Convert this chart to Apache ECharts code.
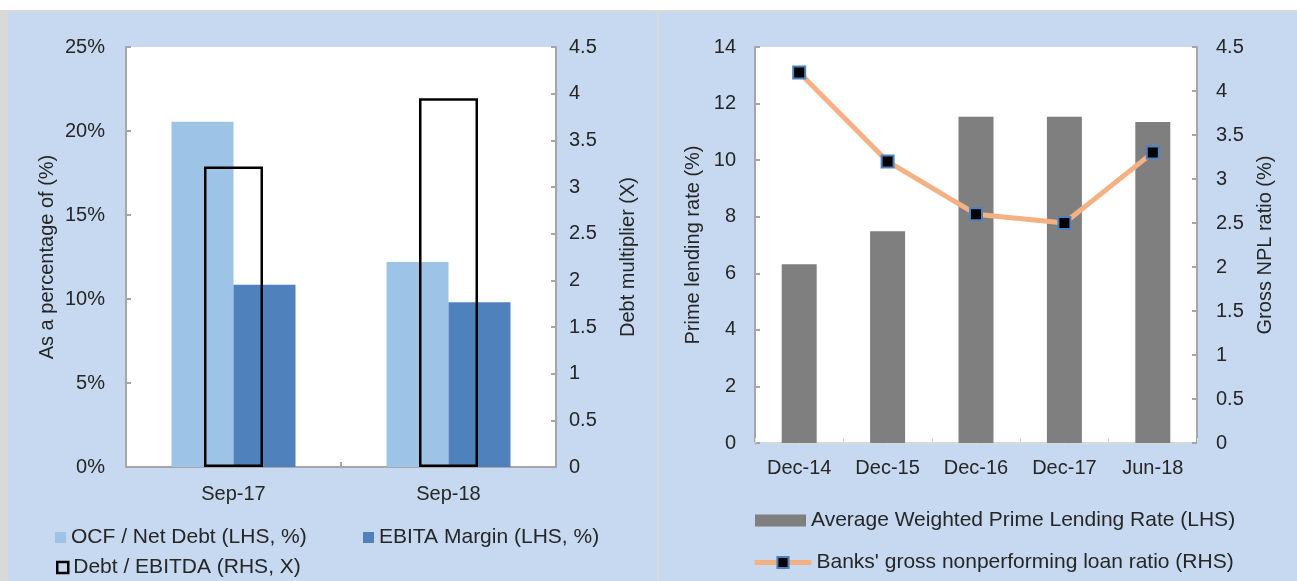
<!DOCTYPE html>
<html>
<head>
<meta charset="utf-8">
<script src="https://cdn.jsdelivr.net/npm/echarts@6/dist/echarts.min.js"></script>
<style>
  html, body { margin: 0; padding: 0; background: #ffffff; }
  #chart { width: 1297px; height: 581px; }
</style>
</head>
<body>
<div id="chart"></div>
<script>
// Left panel: cash-flow coverage, margin and leverage
const periods = ['Sep-17', 'Sep-18'];
const ocfNetDebt = [20.55, 12.2];      // % (LHS)
const ebitaMargin = [10.85, 9.8];      // % (LHS)
const debtEbitda = [3.22, 3.95];       // X (RHS)
const pctTicks = [0, 5, 10, 15, 20, 25];

// Right panel: lending rate and NPL ratio
const months = ['Dec-14', 'Dec-15', 'Dec-16', 'Dec-17', 'Jun-18'];
const primeRate = [6.32, 7.49, 11.53, 11.53, 11.35];   // % (LHS)
const nplRatio = [4.21, 3.2, 2.6, 2.5, 3.3];           // % (RHS)

const FONT = "'Liberation Sans', Arial, sans-serif";
const TEXT = '#262626';
const PANEL = '#c6d9f0';
const AXIS = '#a6a6a6';
const NPL_LINE = '#f4b183';
const NPL_EDGE = '#4f81bd';

const chart = echarts.init(document.getElementById('chart'), null, { renderer: 'canvas' });

function valueAxis(grid, pos, max, interval, opts) {
  return Object.assign({
    type: 'value', gridIndex: grid, position: pos, min: 0, max: max, interval: interval,
    splitLine: { show: false },
    axisLine: { show: true, lineStyle: { color: AXIS, width: 2 } },
    axisTick: { show: true, inside: true, length: 5, lineStyle: { color: AXIS, width: 2 } },
    axisLabel: { color: TEXT, fontFamily: FONT, fontSize: 20 },
    nameLocation: 'middle', nameRotate: 90,
    nameTextStyle: { color: TEXT, fontFamily: FONT, fontSize: 20 }
  }, opts);
}

const legendText = { color: TEXT, fontFamily: FONT, fontSize: 21 };

const option = {
  animation: false,
  backgroundColor: '#ffffff',
  textStyle: { fontFamily: FONT, color: TEXT },
  graphic: [
    // page frame and panel backgrounds
    { type: 'rect', shape: { x: 0, y: 10, width: 1297, height: 2 }, style: { fill: '#d9d9d9' }, silent: true, z: -10 },
    { type: 'rect', shape: { x: 0, y: 12, width: 8, height: 569 }, style: { fill: '#d9d9d9' }, silent: true, z: -10 },
    { type: 'rect', shape: { x: 8, y: 12, width: 649, height: 569 }, style: { fill: PANEL }, silent: true, z: -10 },
    { type: 'rect', shape: { x: 657, y: 12, width: 2, height: 569 }, style: { fill: '#d9d9d9' }, silent: true, z: -10 },
    { type: 'rect', shape: { x: 659, y: 12, width: 638, height: 569 }, style: { fill: PANEL }, silent: true, z: -10 }
  ],
  grid: [
    { left: 126, top: 47, width: 430, height: 420, show: true, backgroundColor: '#ffffff', borderWidth: 0 },
    { left: 755, top: 47, width: 442, height: 396, show: true, backgroundColor: '#ffffff', borderWidth: 0 }
  ],
  legend: [
    {
      left: 55, top: 527, padding: 0, itemWidth: 11, itemHeight: 11, icon: 'rect',
      textStyle: legendText,
      data: ['OCF / Net Debt (LHS, %)']
    },
    {
      left: 363, top: 527, padding: 0, itemWidth: 11, itemHeight: 11, icon: 'rect',
      textStyle: legendText,
      data: ['EBITA Margin (LHS, %)']
    },
    {
      left: 56, top: 557, padding: 0, itemWidth: 11, itemHeight: 11, icon: 'rect',
      textStyle: legendText,
      data: [{ name: 'Debt / EBITDA (RHS, X)', itemStyle: { color: 'rgba(0,0,0,0)', borderColor: '#000000', borderWidth: 2.5 } }]
    },
    {
      left: 755, top: 510, padding: 0, itemWidth: 51, itemHeight: 12, icon: 'rect',
      textStyle: legendText,
      data: ['Average Weighted Prime Lending Rate (LHS)']
    },
    {
      left: 752, top: 552, padding: 0, itemWidth: 57, itemHeight: 14,
      textStyle: legendText,
      data: [{
        name: 'Banks\' gross nonperforming loan ratio (RHS)',
        lineStyle: { color: NPL_LINE, width: 5 },
        itemStyle: { color: '#000000', borderColor: NPL_EDGE, borderWidth: 2 }
      }]
    }
  ],
  xAxis: [
    {
      type: 'category', gridIndex: 0, data: periods,
      axisLine: { show: true, lineStyle: { color: AXIS, width: 2 } },
      axisTick: { show: true, inside: true, length: 5, alignWithLabel: false, lineStyle: { color: AXIS, width: 2 } },
      axisLabel: { color: TEXT, fontFamily: FONT, fontSize: 20, margin: 17 }
    },
    {
      type: 'category', gridIndex: 0, data: periods, show: false
    },
    {
      type: 'category', gridIndex: 1, data: months,
      axisLine: { show: true, lineStyle: { color: '#d9d9d9', width: 2 } },
      axisTick: { show: true, inside: true, length: 5, alignWithLabel: false, lineStyle: { color: '#d9d9d9', width: 1 } },
      axisLabel: { color: TEXT, fontFamily: FONT, fontSize: 20, margin: 15 }
    },
    {
      type: 'category', gridIndex: 1, data: months,
      axisLine: { show: false },
      axisTick: { show: true, inside: true, length: 5, alignWithLabel: true, lineStyle: { color: '#d9d9d9', width: 1 } },
      axisLabel: { show: false }
    }
  ],
  yAxis: [
    valueAxis(0, 'left', pctTicks[pctTicks.length - 1], pctTicks[1] - pctTicks[0], {
      name: 'As a percentage of (%)', nameGap: 69,
      axisLabel: { color: TEXT, fontFamily: FONT, fontSize: 20, margin: 21, formatter: v => v + '%' }
    }),
    valueAxis(0, 'right', 4.5, 0.5, {
      name: 'Debt multiplier (X)', nameGap: 62,
      axisLabel: { color: TEXT, fontFamily: FONT, fontSize: 20, margin: 13 }
    }),
    valueAxis(1, 'left', 14, 2, {
      name: 'Prime lending rate (%)', nameGap: 52,
      axisLabel: { color: TEXT, fontFamily: FONT, fontSize: 20, margin: 19 }
    }),
    valueAxis(1, 'right', 4.5, 0.5, {
      name: 'Gross NPL ratio (%)', nameGap: 58,
      axisLabel: { color: TEXT, fontFamily: FONT, fontSize: 20, margin: 19 }
    })
  ],
  series: [
    {
      name: 'OCF / Net Debt (LHS, %)', type: 'bar', xAxisIndex: 0, yAxisIndex: 0,
      data: ocfNetDebt, barWidth: 62, barGap: '0%',
      itemStyle: { color: '#9dc3e6' }, z: 2
    },
    {
      name: 'EBITA Margin (LHS, %)', type: 'bar', xAxisIndex: 0, yAxisIndex: 0,
      data: ebitaMargin, barWidth: 62, barGap: '0%',
      itemStyle: { color: '#4f81bd' }, z: 2
    },
    {
      name: 'Debt / EBITDA (RHS, X)', type: 'bar', xAxisIndex: 1, yAxisIndex: 1,
      data: debtEbitda, barWidth: 59,
      itemStyle: { color: 'rgba(0,0,0,0)', borderColor: '#000000', borderWidth: 2.5 }, z: 5
    },
    {
      name: 'Average Weighted Prime Lending Rate (LHS)', type: 'bar', xAxisIndex: 2, yAxisIndex: 2,
      data: primeRate, barWidth: 35,
      itemStyle: { color: '#7f7f7f' }
    },
    {
      name: 'Banks\' gross nonperforming loan ratio (RHS)', type: 'line', xAxisIndex: 2, yAxisIndex: 3,
      data: nplRatio,
      lineStyle: { color: NPL_LINE, width: 5 },
      symbol: 'rect', symbolSize: 12,
      itemStyle: { color: '#000000', borderColor: NPL_EDGE, borderWidth: 2 },
      z: 5
    }
  ]
};

chart.setOption(option);
</script>
</body>
</html>
